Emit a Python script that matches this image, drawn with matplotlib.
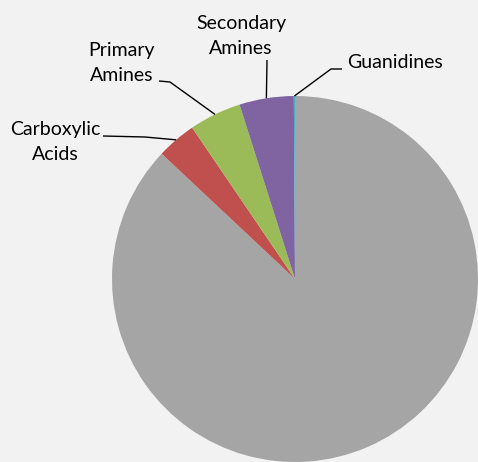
import numpy as np
import matplotlib.pyplot as plt

# slice data, clockwise from 12 o'clock (Excel order)
labels = ['', 'Carboxylic\nAcids', 'Primary\nAmines', 'Secondary\nAmines', 'Guanidines']
shares = [87.0, 3.5, 4.6, 4.8, 0.1]
colors = ['#A5A5A5', '#C0504D', '#9BBB59', '#8064A2', '#4BACC6']

# label layout in pixel coords (from top-left): text centre, then leader points before the wedge edge
text_pos = [None, (55, 142), (122, 63), (241, 36), (395, 62)]
leader = [None,
          [(103, 136), (145, 137)],
          [(159, 81), (170, 82)],
          [(267, 60)],
          [(342, 69), (331, 69)]]

W, H = 478, 462
fig = plt.figure(figsize=(W / 100, H / 100), dpi=100)
fig.patch.set_facecolor('#F2F2F2')
ax = fig.add_axes([0, 0, 1, 1])

cx, cy, r = 295, H - 279, 183
wedges, _ = ax.pie(shares, colors=colors, startangle=90, counterclock=False,
                   center=(cx, cy), radius=r, wedgeprops=dict(linewidth=0))
ax.set_xlim(0, W)
ax.set_ylim(0, H)
ax.axis('off')

for w, lab, tp, pts in zip(wedges, labels, text_pos, leader):
    if not lab:
        continue
    mid = np.radians((w.theta1 + w.theta2) / 2)
    edge = (cx + r * np.cos(mid), cy + r * np.sin(mid))
    xs = [p[0] for p in pts] + [edge[0]]
    ys = [H - p[1] for p in pts] + [edge[1]]
    ax.plot(xs, ys, color='black', lw=1.0, solid_capstyle='butt')
    ax.text(tp[0], H - tp[1], lab, ha='center', va='center', fontsize=14,
            family='Lato', linespacing=1.55, color='black')

fig.savefig('out.png', dpi=100, facecolor=fig.get_facecolor())
